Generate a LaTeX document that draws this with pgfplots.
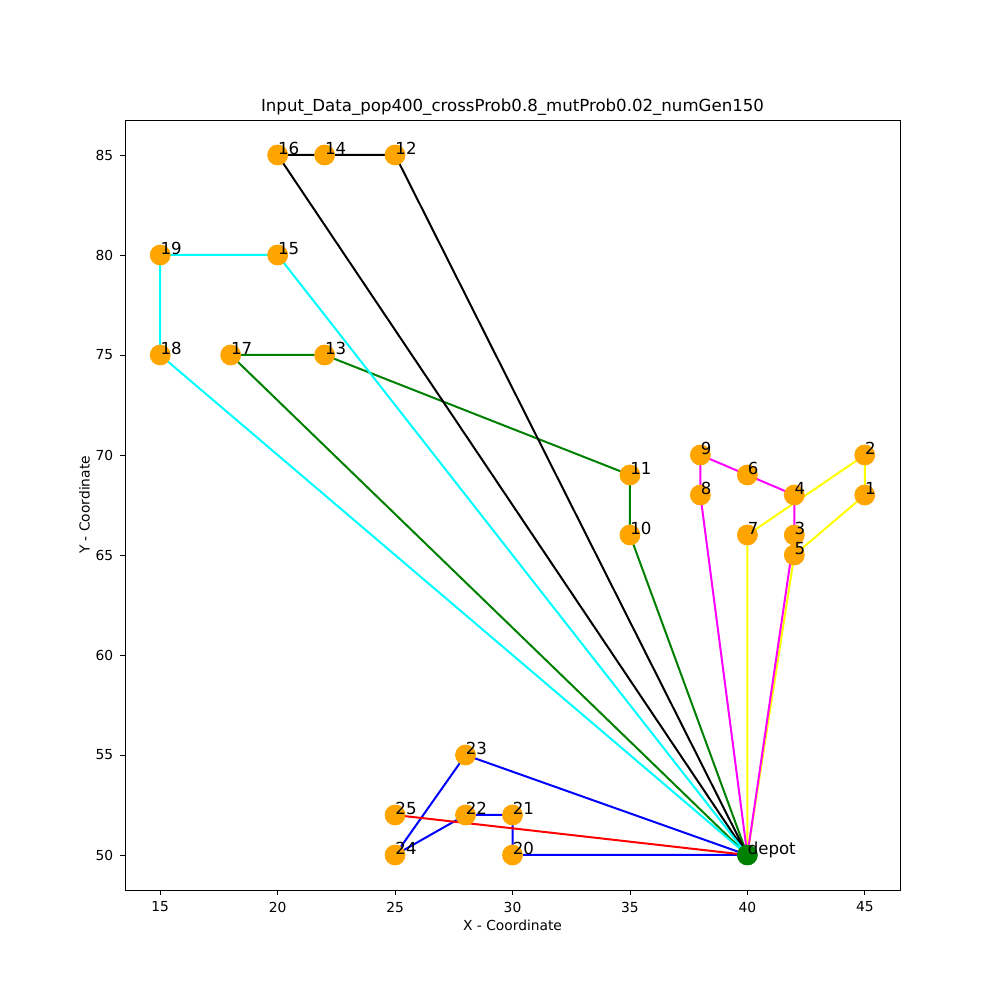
\documentclass[border=0pt]{standalone}
\usepackage{fontspec}
\setmainfont{DejaVu Sans}
\usepackage{pgfplots}
\pgfplotsset{compat=1.18}
\definecolor{mplorange}{rgb}{1,0.647,0}
\definecolor{mplgreen}{rgb}{0,0.5,0}
\definecolor{mplcyan}{rgb}{0,1,1}
\definecolor{mplmagenta}{rgb}{1,0,1}
\definecolor{mplyellow}{rgb}{1,1,0}
\definecolor{mplred}{rgb}{1,0,0}
\definecolor{mplblue}{rgb}{0,0,1}
\begin{document}
\begin{tikzpicture}
\path (0,0) rectangle (500pt,500pt);
\begin{axis}[
  at={(62.5pt,55pt)}, anchor=south west, scale only axis,
  width=387.5pt, height=385pt,
  xmin=13.5, xmax=46.5, ymin=48.25, ymax=86.75,
  xtick={15,20,...,45}, ytick={50,55,...,85},
  tick align=outside, tick pos=left, major tick length=2.4pt,
  every tick/.style={black, line width=0.4pt},
  axis line style={line width=0.4pt},
  tick label style={font=\fontsize{6.9}{8}\selectfont},
  /pgf/number format/assume math mode=true,
  title={Input\_Data\_pop400\_crossProb0.8\_mutProb0.02\_numGen150},
  title style={font=\fontsize{8.3}{10}\selectfont, yshift=-7pt},
  xlabel={X - Coordinate}, ylabel={Y - Coordinate},
  label style={font=\fontsize{6.9}{8}\selectfont},
  xlabel style={yshift=3pt},
  ylabel style={yshift=-4pt},
  clip=false,
]
% customers
\addplot[mplorange, only marks, mark=*, mark size=5pt, mark options={draw=mplorange, fill=mplorange}] table {
x y
45 68
45 70
42 66
42 68
42 65
40 69
40 66
38 68
38 70
35 66
35 69
25 85
22 75
22 85
20 80
20 85
18 75
15 75
15 80
30 50
30 52
28 52
28 55
25 50
25 52
};
% depot
\addplot[mplgreen, only marks, mark=*, mark size=5pt, mark options={draw=mplgreen, fill=mplgreen}] coordinates {(40,50)};
% routes
\addplot[mplyellow, line width=1pt, mark=none] coordinates {(40,50) (40,66) (45,70) (45,68) (42,65) (40,50)};
\addplot[mplmagenta, line width=1pt, mark=none] coordinates {(40,50) (42,66) (42,68) (40,69) (38,70) (38,68) (40,50)};
\addplot[mplgreen, line width=1pt, mark=none] coordinates {(40,50) (35,66) (35,69) (22,75) (18,75) (40,50)};
\addplot[black, line width=1pt, mark=none] coordinates {(40,50) (25,85) (22,85) (20,85) (40,50)};
\addplot[mplcyan, line width=1pt, mark=none] coordinates {(40,50) (20,80) (15,80) (15,75) (40,50)};
\addplot[mplblue, line width=1pt, mark=none] coordinates {(40,50) (30,50) (30,52) (28,52) (25,50) (28,55) (40,50)};
\addplot[mplred, line width=1pt, mark=none] coordinates {(40,50) (25,52) (40,50)};
% labels
\addplot[draw=none, mark=none, nodes near coords, point meta=explicit symbolic,
  every node near coord/.style={anchor=base west, inner sep=0pt, font=\fontsize{8.3}{10}\selectfont, black}]
  table[meta=label] {
x y label
45 68 1
45 70 2
42 66 3
42 68 4
42 65 5
40 69 6
40 66 7
38 68 8
38 70 9
35 66 10
35 69 11
25 85 12
22 75 13
22 85 14
20 80 15
20 85 16
18 75 17
15 75 18
15 80 19
30 50 20
30 52 21
28 52 22
28 55 23
25 50 24
25 52 25
40 50 depot
};
\end{axis}
\end{tikzpicture}
\end{document}
